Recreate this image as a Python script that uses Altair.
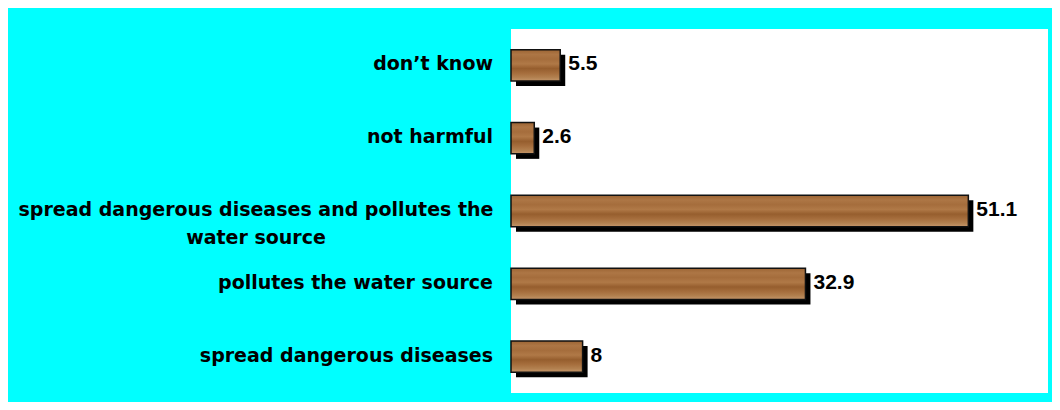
import altair as alt
import pandas as pd

categories = [
    "don’t know",
    "not harmful",
    "spread dangerous diseases and pollutes the water source",
    "pollutes the water source",
    "spread dangerous diseases",
]
label_lines = [
    "don’t know",
    "not harmful",
    "spread dangerous diseases and pollutes the\nwater source",
    "pollutes the water source",
    "spread dangerous diseases",
]
values = [5.5, 2.6, 51.1, 32.9, 8]
value_labels = ["5.5", "2.6", "51.1", "32.9", "8"]

df = pd.DataFrame({
    "category": categories,
    "label": label_lines,
    "value": values,
    "vlabel": value_labels,
    "wrapped": ["\n" in s for s in label_lines],
})

y_enc = alt.Y(
    "category:N",
    sort=categories,
    scale=alt.Scale(paddingInner=0.57, paddingOuter=0.285),
    axis=None,
)
x_scale = alt.Scale(domain=[0, 60], nice=False, zero=True)

wood = alt.LinearGradient(
    gradient="linear",
    x1=0, y1=0, x2=0, y2=1,
    stops=[
        alt.GradientStop(offset=0.0, color="#9C6433"),
        alt.GradientStop(offset=0.15, color="#AD7645"),
        alt.GradientStop(offset=0.3, color="#A56D3C"),
        alt.GradientStop(offset=0.45, color="#B07947"),
        alt.GradientStop(offset=0.6, color="#965E2E"),
        alt.GradientStop(offset=0.75, color="#A66E3D"),
        alt.GradientStop(offset=0.88, color="#B2804F"),
        alt.GradientStop(offset=1.0, color="#C4966A"),
    ],
)

base = alt.Chart(df)

shadow = base.mark_bar(color="black", xOffset=5, yOffset=5).encode(
    x=alt.X("value:Q", scale=x_scale, axis=None),
    y=y_enc,
)

bars = base.mark_bar(fill=wood, stroke="#111111", strokeWidth=1.5).encode(
    x=alt.X("value:Q", scale=x_scale, axis=None),
    y=y_enc,
)

values_text = base.mark_text(
    align="left", baseline="middle", dx=8, dy=-1,
    font="Liberation Sans", fontWeight="bold", fontSize=21, color="black",
).encode(
    x=alt.X("value:Q", scale=x_scale, axis=None),
    y=y_enc,
    text="vlabel:N",
)

single_labels = base.transform_filter(
    "!datum.wrapped"
).mark_text(
    align="right", baseline="middle", dy=-1,
    font="DejaVu Sans", fontWeight="bold", fontSize=19, color="black",
).encode(
    x=alt.value(-18),
    y=y_enc,
    text="label:N",
)

multi_labels = base.transform_filter(
    "datum.wrapped"
).mark_text(
    align="center", baseline="middle", lineBreak="\n", lineHeight=28, dy=-1,
    font="DejaVu Sans", fontWeight="bold", fontSize=19, color="black",
).encode(
    x=alt.value(-255),
    y=y_enc,
    text="label:N",
)

chart = alt.layer(shadow, bars, values_text, single_labels, multi_labels).properties(
    width=537,
    height=364,
    background="#00FFFF",
    padding={"left": 503, "top": 21, "right": 4, "bottom": 9},
    autosize=alt.AutoSizeParams(type="none"),
).configure_view(fill="white", strokeWidth=0)

chart.save("out.html", embed_options={"renderer": "svg", "actions": False})
